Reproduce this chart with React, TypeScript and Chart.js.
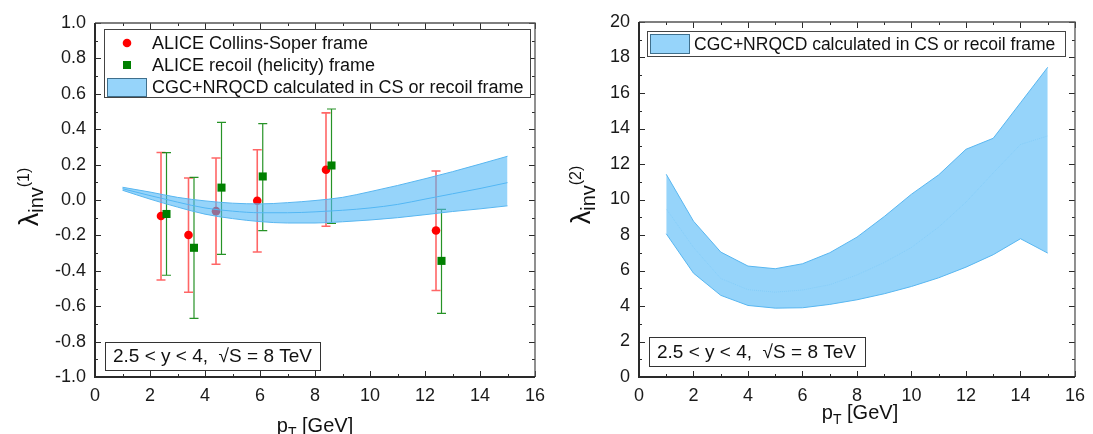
import React, { useEffect, useRef } from "react";
import { Chart, registerables } from "chart.js";

Chart.register(...registerables);

const FONT = '"Liberation Sans", Arial, sans-serif';

// ---------------- data ----------------
const xTickMin = 0;
const xTickMax = 16;
const xTickStep = 2;

const y1TickMin = -1;
const y1TickMax = 1;
const y1TickStep = 0.2;

const y2TickMin = 0;
const y2TickMax = 20;
const y2TickStep = 2;

// ALICE Collins-Soper frame (red circles)
const csPt = [2.4, 3.4, 4.4, 5.9, 8.4, 12.4];
const csVal = [-0.09, -0.198, -0.063, -0.004, 0.171, -0.172];
const csHi = [0.268, 0.124, 0.237, 0.284, 0.492, 0.164];
const csLo = [-0.452, -0.521, -0.363, -0.294, -0.148, -0.511];

// ALICE recoil (helicity) frame (green squares)
const rfPt = [2.6, 3.6, 4.6, 6.1, 8.6, 12.6];
const rfVal = [-0.079, -0.27, 0.07, 0.133, 0.195, -0.344];
const rfHi = [0.268, 0.128, 0.439, 0.431, 0.514, -0.053];
const rfLo = [-0.425, -0.669, -0.307, -0.173, -0.132, -0.641];

// CGC+NRQCD band, lambda_inv^(1)
const bandPt = [1, 2, 3, 4, 5, 6, 7, 8, 9, 10, 11, 12, 13, 14, 15];
const band1Upper = [0.072, 0.045, 0.015, -0.005, -0.018, -0.022, -0.015, -0.003, 0.015, 0.047, 0.082, 0.12, 0.16, 0.203, 0.247];
const band1Mid = [0.064, 0.025, -0.012, -0.045, -0.063, -0.072, -0.072, -0.067, -0.058, -0.045, -0.025, 0.005, 0.035, 0.065, 0.098];
const band1Lower = [0.055, 0.005, -0.04, -0.08, -0.105, -0.122, -0.13, -0.13, -0.123, -0.113, -0.1, -0.083, -0.065, -0.05, -0.033];

// CGC+NRQCD band, lambda_inv^(2)
const band2Upper = [11.42, 8.78, 7.04, 6.25, 6.1, 6.38, 7.0, 7.88, 9.04, 10.3, 11.39, 12.83, 13.45, 15.45, 17.45];
const band2Mid = [9.47, 7.3, 5.55, 4.92, 4.78, 4.9, 5.2, 5.75, 6.45, 7.3, 8.45, 9.85, 11.5, 13.1, 13.58];
const band2Lower = [8.07, 5.85, 4.6, 4.03, 3.88, 3.9, 4.09, 4.35, 4.69, 5.1, 5.59, 6.19, 6.89, 7.79, 6.98];

const legendCS = "ALICE Collins-Soper frame";
const legendRF = "ALICE recoil (helicity) frame";
const legendBand = "CGC+NRQCD calculated in CS or recoil frame";
const infoText = "2.5 < y < 4,  \u221AS = 8 TeV";
const xTitleMain = "p";
const xTitleSub = "T";
const xTitleRest = " [GeV]";
const yTitleMain = "\u03BB";
const yTitleSub = "inv";
const yTitleSup1 = "(1)";
const yTitleSup2 = "(2)";

// ---------------- styles ----------------
const BAND_FILL = "rgba(80,183,247,0.6)";
const BAND_LEGEND_FILL = "rgb(150,212,250)";
const BAND_LINE = "rgb(88,182,240)";
const RED = "rgb(255,0,0)";
const GREEN = "rgb(0,128,0)";

const pts = (xs: number[], ys: number[]) => xs.map((x, i) => ({ x, y: ys[i] }));

function drawFrame(chart: any) {
  const { ctx, chartArea: a } = chart;
  const xs = chart.scales.x;
  const ys = chart.scales.y;
  ctx.save();
  ctx.strokeStyle = "#2a2a2a";
  ctx.lineWidth = 1;
  const xv = xs.ticks.map((t: any) => t.value);
  const yv = ys.ticks.map((t: any) => t.value);
  const drawX = (v: number, len: number) => {
    const p = Math.round(xs.getPixelForValue(v)) + 0.5;
    ctx.beginPath();
    ctx.moveTo(p, a.bottom);
    ctx.lineTo(p, a.bottom - len);
    ctx.moveTo(p, a.top);
    ctx.lineTo(p, a.top + len);
    ctx.stroke();
  };
  const drawY = (v: number, len: number) => {
    const p = Math.round(ys.getPixelForValue(v)) + 0.5;
    ctx.beginPath();
    ctx.moveTo(a.left, p);
    ctx.lineTo(a.left + len, p);
    ctx.moveTo(a.right, p);
    ctx.lineTo(a.right - len, p);
    ctx.stroke();
  };
  xv.forEach((v: number, i: number) => {
    drawX(v, 6);
    if (i < xv.length - 1) drawX((v + xv[i + 1]) / 2, 3);
  });
  yv.forEach((v: number, i: number) => {
    drawY(v, 6);
    if (i < yv.length - 1) drawY((v + yv[i + 1]) / 2, 3);
  });
  ctx.lineWidth = 1.3;
  ctx.strokeStyle = "#555";
  ctx.beginPath();
  ctx.moveTo(a.left, a.top);
  ctx.lineTo(a.right, a.top);
  ctx.lineTo(a.right, a.bottom);
  ctx.stroke();
  ctx.lineWidth = 2;
  ctx.strokeStyle = "#2a2a2a";
  ctx.beginPath();
  ctx.moveTo(a.left, a.top);
  ctx.lineTo(a.left, a.bottom);
  ctx.lineTo(a.right, a.bottom);
  ctx.stroke();
  ctx.restore();
}

function drawXTitle(ctx: CanvasRenderingContext2D, cx: number, baseY: number) {
  ctx.save();
  ctx.fillStyle = "#111";
  ctx.textBaseline = "alphabetic";
  ctx.textAlign = "left";
  const f1 = `20px ${FONT}`;
  const f2 = `14px ${FONT}`;
  ctx.font = f1;
  const w1 = ctx.measureText(xTitleMain).width;
  const w3 = ctx.measureText(xTitleRest).width;
  ctx.font = f2;
  const w2 = ctx.measureText(xTitleSub).width;
  let x = cx - (w1 + w2 + w3) / 2;
  ctx.font = f1;
  ctx.fillText(xTitleMain, x, baseY);
  x += w1;
  ctx.font = f2;
  ctx.fillText(xTitleSub, x, baseY + 5);
  x += w2;
  ctx.font = f1;
  ctx.fillText(xTitleRest, x, baseY);
  ctx.restore();
}

function drawYTitle(ctx: CanvasRenderingContext2D, baseX: number, cy: number, sup: string) {
  ctx.save();
  ctx.fillStyle = "#111";
  ctx.textBaseline = "alphabetic";
  ctx.textAlign = "left";
  const parts = [
    { t: yTitleMain, f: `27px ${FONT}`, dy: 0 },
    { t: yTitleSub, f: `20px ${FONT}`, dy: 5 },
    { t: sup, f: `16px ${FONT}`, dy: -9 },
  ];
  const widths = parts.map((p) => {
    ctx.font = p.f;
    return ctx.measureText(p.t).width;
  });
  const total = widths.reduce((s, w) => s + w, 0);
  ctx.translate(baseX, cy);
  ctx.rotate(-Math.PI / 2);
  let x = -total / 2;
  parts.forEach((p, i) => {
    ctx.font = p.f;
    ctx.fillText(p.t, x, p.dy);
    x += widths[i];
  });
  ctx.restore();
}

function drawInfoBox(ctx: CanvasRenderingContext2D, x: number, y: number, w: number, h: number) {
  ctx.save();
  ctx.fillStyle = "#fff";
  ctx.fillRect(x, y, w, h);
  ctx.strokeStyle = "#333";
  ctx.lineWidth = 1;
  ctx.strokeRect(x + 0.5, y + 0.5, w, h);
  ctx.fillStyle = "#111";
  ctx.font = `19px ${FONT}`;
  ctx.textBaseline = "middle";
  ctx.textAlign = "left";
  ctx.fillText(infoText, x + 8, y + h / 2 + 1);
  ctx.restore();
}

function drawBandKey(ctx: CanvasRenderingContext2D, x: number, y: number, w: number, h: number) {
  ctx.save();
  ctx.fillStyle = BAND_LEGEND_FILL;
  ctx.fillRect(x, y, w, h);
  ctx.strokeStyle = "#3f6f8c";
  ctx.lineWidth = 1;
  ctx.strokeRect(x + 0.5, y + 0.5, w, h);
  ctx.restore();
}

function drawErrorBars(chart: any, xs: number[], lo: number[], hi: number[], color: string, width: number) {
  const { ctx } = chart;
  const sx = chart.scales.x;
  const sy = chart.scales.y;
  ctx.save();
  ctx.strokeStyle = color;
  ctx.lineWidth = width;
  xs.forEach((xv, i) => {
    const px = sx.getPixelForValue(xv);
    const p1 = sy.getPixelForValue(lo[i]);
    const p2 = sy.getPixelForValue(hi[i]);
    ctx.beginPath();
    ctx.moveTo(px, p1);
    ctx.lineTo(px, p2);
    ctx.moveTo(px - 4.5, p1);
    ctx.lineTo(px + 4.5, p1);
    ctx.moveTo(px - 4.5, p2);
    ctx.lineTo(px + 4.5, p2);
    ctx.stroke();
  });
  ctx.restore();
}

const tickFont = { family: FONT, size: 18 };

function baseScales(yMin: number, yMax: number, yStep: number, yWidth: number, fmt: (v: number) => string) {
  return {
    x: {
      type: "linear" as const,
      min: xTickMin,
      max: xTickMax,
      afterFit: (s: any) => {
        s.height = 57;
      },
      grid: { display: false, drawTicks: false },
      border: { display: false },
      ticks: { stepSize: xTickStep, font: tickFont, color: "#1a1a1a", padding: 8, maxRotation: 0, autoSkip: false },
    },
    y: {
      type: "linear" as const,
      min: yMin,
      max: yMax,
      afterFit: (s: any) => {
        s.width = yWidth;
      },
      grid: { display: false, drawTicks: false },
      border: { display: false },
      ticks: { stepSize: yStep, font: tickFont, color: "#1a1a1a", padding: 9, autoSkip: false, callback: (v: any) => fmt(Number(v)) },
    },
  };
}

function bandDatasets(upper: number[], mid: number[], lower: number[], midStyle: any, smooth: boolean) {
  const interp = smooth ? { cubicInterpolationMode: "monotone" as const } : { tension: 0 };
  return [
    {
      type: "line" as const,
      data: pts(bandPt, lower),
      borderColor: BAND_LINE,
      borderWidth: 1,
      pointRadius: 0,
      fill: false,
      order: 0,
      ...interp,
    },
    {
      type: "line" as const,
      data: pts(bandPt, upper),
      borderColor: BAND_LINE,
      borderWidth: 1,
      pointRadius: 0,
      fill: "-1",
      backgroundColor: BAND_FILL,
      order: 0,
      ...interp,
    },
    {
      type: "line" as const,
      data: pts(bandPt, mid),
      pointRadius: 0,
      fill: false,
      order: 0,
      ...interp,
      ...midStyle,
    },
  ];
}

function makeLeft(canvas: HTMLCanvasElement) {
  const plugin = {
    id: "leftDecor",
    beforeDatasetsDraw(chart: any) {
      drawErrorBars(chart, csPt, csLo, csHi, "rgba(255,0,0,0.6)", 1.6);
      drawErrorBars(chart, rfPt, rfLo, rfHi, "rgba(0,128,0,0.85)", 1.2);
    },
    afterDraw(chart: any) {
      const ctx = chart.ctx as CanvasRenderingContext2D;
      drawFrame(chart);
      // legend
      ctx.save();
      ctx.fillStyle = "#fff";
      ctx.fillRect(104, 29, 426, 68);
      ctx.strokeStyle = "#444";
      ctx.lineWidth = 1;
      ctx.strokeRect(104.5, 29.5, 426, 68);
      ctx.fillStyle = RED;
      ctx.beginPath();
      ctx.arc(127, 43, 4.3, 0, Math.PI * 2);
      ctx.fill();
      ctx.fillStyle = GREEN;
      ctx.fillRect(123, 61, 8, 8);
      ctx.restore();
      drawBandKey(ctx, 107, 78, 39, 18);
      ctx.save();
      ctx.fillStyle = "#111";
      ctx.font = `18px ${FONT}`;
      ctx.textBaseline = "middle";
      ctx.textAlign = "left";
      ctx.fillText(legendCS, 152, 44);
      ctx.fillText(legendRF, 152, 66);
      ctx.fillText(legendBand, 152, 88);
      ctx.restore();
      drawInfoBox(ctx, 105, 342, 215, 28);
      drawXTitle(ctx, 315, 432);
      drawYTitle(ctx, 38, 197, yTitleSup1);
    },
  };
  return new Chart(canvas, {
    type: "scatter",
    data: {
      datasets: [
        ...bandDatasets(band1Upper, band1Mid, band1Lower, { borderColor: BAND_LINE, borderWidth: 1 }, true),
        {
          type: "scatter" as const,
          data: pts(csPt, csVal),
          pointStyle: "circle",
          pointRadius: 4.3,
          backgroundColor: RED,
          borderWidth: 0,
          order: 2,
        },
        {
          type: "scatter" as const,
          data: pts(rfPt, rfVal),
          pointStyle: "rect",
          pointRadius: 5.7,
          backgroundColor: GREEN,
          borderWidth: 0,
          order: 1,
        },
      ] as any,
    },
    options: {
      animation: false,
      responsive: false,
      devicePixelRatio: 1,
      layout: { padding: { left: 0, right: 25, top: 23, bottom: 0 } },
      plugins: { legend: { display: false }, tooltip: { enabled: false } },
      scales: baseScales(y1TickMin, y1TickMax, y1TickStep, 95, (v) => (Math.abs(v) < 1e-9 ? "0.0" : v.toFixed(1))) as any,
    },
    plugins: [plugin],
  });
}

function makeRight(canvas: HTMLCanvasElement) {
  const plugin = {
    id: "rightDecor",
    afterDraw(chart: any) {
      const ctx = chart.ctx as CanvasRenderingContext2D;
      drawFrame(chart);
      ctx.save();
      ctx.fillStyle = "#fff";
      ctx.fillRect(87, 31, 418, 25);
      ctx.strokeStyle = "#444";
      ctx.lineWidth = 1;
      ctx.strokeRect(87.5, 31.5, 418, 25);
      ctx.restore();
      drawBandKey(ctx, 90, 34, 39, 19);
      ctx.save();
      ctx.fillStyle = "#111";
      ctx.font = `17.5px ${FONT}`;
      ctx.textBaseline = "middle";
      ctx.textAlign = "left";
      ctx.fillText(legendBand, 134, 45);
      ctx.restore();
      drawInfoBox(ctx, 89, 337, 216, 29);
      drawXTitle(ctx, 300, 419);
      drawYTitle(ctx, 30, 195, yTitleSup2);
    },
  };
  return new Chart(canvas, {
    type: "scatter",
    data: {
      datasets: bandDatasets(
        band2Upper,
        band2Mid,
        band2Lower,
        { borderColor: "rgba(185,226,250,0.8)", borderWidth: 0.8, borderDash: [1, 1] },
        false
      ) as any,
    },
    options: {
      animation: false,
      responsive: false,
      devicePixelRatio: 1,
      layout: { padding: { left: 0, right: 13, top: 22, bottom: 0 } },
      plugins: { legend: { display: false }, tooltip: { enabled: false } },
      scales: baseScales(y2TickMin, y2TickMax, y2TickStep, 79, (v) => String(Math.round(v))) as any,
    },
    plugins: [plugin],
  });
}

function Panel({ width, left, make }: { width: number; left: number; make: (c: HTMLCanvasElement) => Chart }) {
  const ref = useRef<HTMLCanvasElement | null>(null);
  useEffect(() => {
    if (!ref.current) return;
    const chart = make(ref.current);
    return () => chart.destroy();
  }, [make]);
  return (
    <canvas
      ref={ref}
      width={width}
      height={434}
      style={{ position: "absolute", left, top: 0, width, height: 434, display: "block" }}
    />
  );
}

export default function App() {
  return (
    <div style={{ position: "absolute", left: 0, top: 0, width: 1093, height: 434, background: "#fff", overflow: "hidden" }}>
      <Panel width={560} left={0} make={makeLeft} />
      <Panel width={533} left={560} make={makeRight} />
    </div>
  );
}
